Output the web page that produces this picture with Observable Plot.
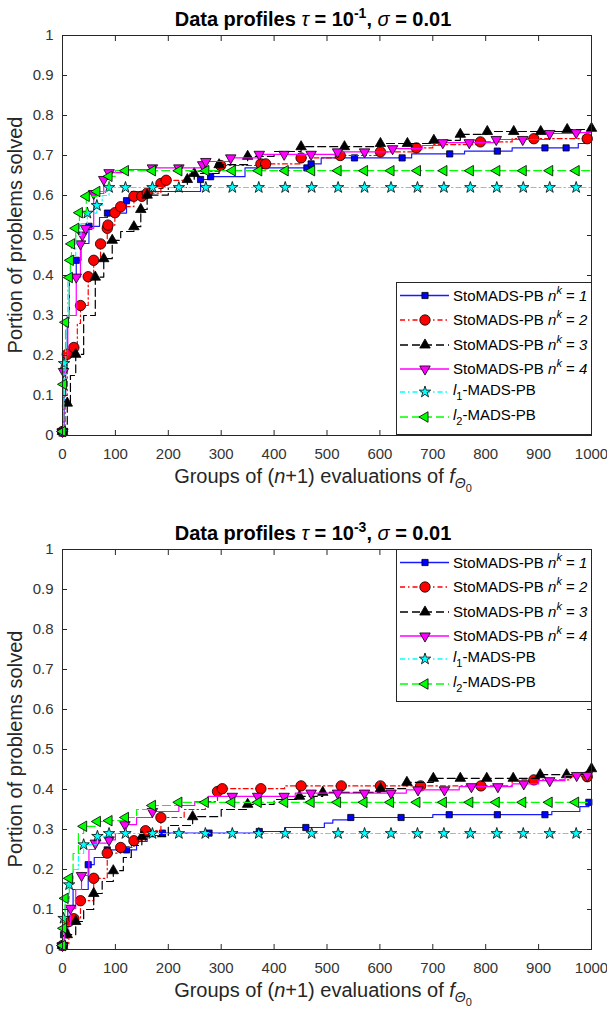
<!DOCTYPE html>
<html><head><meta charset="utf-8">
<script src="https://cdn.jsdelivr.net/npm/d3@7"></script>
<script src="https://cdn.jsdelivr.net/npm/@observablehq/plot@0.6"></script>
<style>
body{margin:0;background:#fff;}
#root{position:relative;width:607px;height:1021px;overflow:hidden;background:#fff;font-family:"Liberation Sans",Arial,sans-serif;}
#root svg.plot{position:absolute;left:0;}
</style>
</head><body><div id="root"></div>
<script>
// ---------- axes ticks ----------
const xTicks = [0,100,200,300,400,500,600,700,800,900,1000];
const xTickLabels = ["0","100","200","300","400","500","600","700","800","900","1000"];
const yTicks = [0,0.1,0.2,0.3,0.4,0.5,0.6,0.7,0.8,0.9,1];
const yTickLabels = ["0","0.1","0.2","0.3","0.4","0.5","0.6","0.7","0.8","0.9","1"];

// ---------- series names ----------
const seriesNames = ["StoMADS-PB nk=1","StoMADS-PB nk=2","StoMADS-PB nk=3","StoMADS-PB nk=4","l1-MADS-PB","l2-MADS-PB"];
const titles = [["10","-1"],["10","-3"]];

// ---------- panel 1 (tau = 1e-1): [x, y, hasMarker] ----------
const top_nk1 = [[0,0.01,1],[3,0.1,0],[6,0.2,0],[9,0.3,0],[13,0.4,0],[26,0.438,1],[35,0.48,0],[50,0.523,1],[70,0.545,0],[85,0.556,1],[121,0.587,1],[130,0.61,0],[261,0.64,1],[280,0.647,1],[345,0.669,0],[462,0.669,1],[470,0.679,1],[489,0.694,0],[552,0.694,1],[642,0.694,1],[660,0.704,0],[732,0.704,1],[760,0.711,0],[822,0.711,1],[850,0.719,0],[912,0.719,1],[952,0.719,1],[975,0.73,0],[990,0.742,1],[1000,0.742,0]];
const top_nk2 = [[0,0.01,1],[5,0.1,0],[9,0.203,1],[21.5,0.22,1],[28,0.28,0],[34,0.325,1],[48.6,0.397,1],[59,0.438,1],[72,0.479,1],[84.6,0.518,1],[86,0.526,1],[99,0.557,1],[110,0.572,1],[135,0.598,1],[150,0.598,1],[160,0.606,1],[186,0.63,1],[196,0.638,1],[240,0.66,0],[299,0.675,1],[375,0.679,1],[384,0.679,1],[451,0.694,1],[525,0.7,1],[601,0.709,1],[669,0.719,1],[700,0.727,0],[790,0.734,1],[850,0.742,0],[891,0.742,1],[992,0.742,1],[1000,0.742,0]];
const top_nk3 = [[0,0.01,1],[9,0.081,1],[15,0.15,0],[25,0.203,1],[40,0.3,0],[62,0.396,1],[78,0.442,1],[94,0.488,1],[110,0.51,0],[135,0.522,1],[148,0.565,1],[160,0.601,1],[200,0.62,0],[236,0.64,1],[249,0.655,1],[296,0.677,1],[350,0.698,1],[400,0.71,0],[451,0.722,1],[533,0.722,1],[601,0.73,1],[652,0.73,1],[702,0.738,1],[752,0.753,1],[803,0.76,1],[853,0.76,1],[904,0.76,1],[954,0.765,1],[1000,0.768,1]];
const top_nk4 = [[0,0.01,1],[2,0.16,1],[5,0.2,0],[10,0.3,0],[26,0.396,1],[34,0.479,1],[37.5,0.501,1],[43.6,0.518,1],[59,0.605,1],[78,0.64,1],[88,0.657,1],[120,0.665,0],[170,0.669,1],[220,0.669,1],[265,0.677,1],[271,0.685,1],[318,0.694,1],[372,0.703,1],[419,0.703,1],[470,0.703,1],[520,0.709,1],[571,0.709,1],[624,0.717,1],[680,0.725,0],[719,0.732,1],[769,0.732,1],[820,0.74,1],[870,0.74,1],[921,0.755,1],[971,0.757,1],[1000,0.757,0]];
const top_l1 = [[0,0.01,1],[2,0.08,0],[3,0.18,1],[6,0.28,0],[10,0.4,0],[15,0.45,0],[25,0.5,0],[35,0.53,0],[47,0.556,1],[65,0.575,1],[75,0.6,0],[88,0.62,1],[119,0.62,1],[170,0.62,1],[220,0.62,1],[271,0.62,1],[321,0.62,1],[371,0.62,1],[421,0.62,1],[471,0.62,1],[521,0.62,1],[571,0.62,1],[621,0.62,1],[671,0.62,1],[721,0.62,1],[771,0.62,1],[821,0.62,1],[871,0.62,1],[921,0.62,1],[971,0.62,1],[1000,0.62,0]];
const top_l2 = [[0,0.01,1],[2,0.128,1],[5.7,0.283,1],[13,0.395,1],[15,0.438,1],[17,0.479,1],[25,0.518,1],[32,0.557,1],[45,0.598,1],[65,0.61,1],[88,0.648,1],[100,0.662,0],[119,0.662,1],[170,0.662,1],[220,0.662,1],[271,0.662,1],[321,0.662,1],[371,0.662,1],[421,0.662,1],[471,0.662,1],[521,0.662,1],[571,0.662,1],[621,0.662,1],[671,0.662,1],[721,0.662,1],[771,0.662,1],[821,0.662,1],[871,0.662,1],[921,0.662,1],[971,0.662,1],[1000,0.662,0]];

// ---------- panel 2 (tau = 1e-3) ----------
const bot_nk1 = [[0,0.01,1],[2,0.037,1],[10,0.1,0],[20,0.15,0],[48.6,0.212,1],[60,0.23,0],[84.6,0.249,1],[121,0.249,1],[140,0.27,0],[160,0.285,0],[189,0.291,1],[277,0.291,1],[372,0.295,1],[420,0.305,0],[460,0.305,1],[495,0.316,0],[511,0.324,0],[545,0.33,1],[640,0.33,1],[700,0.337,0],[731,0.337,1],[822,0.337,1],[912,0.337,1],[925,0.345,0],[978,0.357,0],[995,0.368,1],[1000,0.368,0]];
const bot_nk2 = [[0,0.01,1],[12,0.07,1],[21.5,0.077,1],[34,0.122,1],[59,0.178,1],[84.6,0.241,1],[110,0.255,1],[135,0.272,1],[157,0.297,1],[186,0.33,1],[230,0.35,0],[270,0.37,0],[293,0.395,1],[302,0.402,1],[375,0.402,1],[420,0.409,0],[451,0.409,1],[527,0.409,1],[601,0.409,1],[677,0.409,1],[791,0.409,1],[850,0.424,0],[891,0.424,1],[960,0.432,0],[992,0.432,1],[1000,0.44,0]];
const bot_nk3 = [[0,0.01,1],[9,0.037,1],[25,0.07,1],[40,0.1,0],[59,0.14,1],[75,0.17,0],[96,0.197,1],[115,0.23,0],[130,0.26,0],[150,0.282,1],[200,0.31,0],[246,0.332,1],[300,0.35,0],[350,0.363,1],[400,0.375,0],[448,0.383,1],[492,0.393,1],[601,0.402,1],[651,0.418,1],[701,0.428,1],[752,0.428,1],[802,0.428,1],[852,0.428,1],[903,0.437,1],[953,0.437,1],[1000,0.452,1]];
const bot_nk4 = [[0,0.01,1],[4,0.06,0],[15,0.103,1],[25,0.15,0],[36,0.185,1],[50,0.25,0],[62,0.266,1],[88,0.274,1],[100,0.29,0],[118,0.312,1],[140,0.33,0],[170,0.345,1],[220,0.36,0],[250,0.37,0],[275,0.383,0],[321,0.383,1],[369,0.383,1],[419,0.383,1],[440,0.391,0],[470,0.391,1],[520,0.391,1],[571,0.391,1],[621,0.391,1],[650,0.399,0],[672,0.399,1],[722,0.399,1],[750,0.407,0],[773,0.407,1],[823,0.407,1],[850,0.414,0],[872,0.414,1],[900,0.422,0],[921,0.422,1],[950,0.435,0],[972,0.435,1],[992,0.435,1],[1000,0.44,0]];
const bot_l1 = [[0,0.01,1],[2,0.078,1],[5,0.12,0],[12.5,0.162,1],[20,0.2,0],[30,0.24,0],[40,0.262,1],[66,0.283,1],[88,0.29,1],[119,0.29,1],[170,0.29,1],[220,0.29,1],[270,0.29,1],[321,0.29,1],[371,0.29,1],[421,0.29,1],[471,0.29,1],[521,0.29,1],[571,0.29,1],[621,0.29,1],[671,0.29,1],[721,0.29,1],[771,0.29,1],[821,0.29,1],[871,0.29,1],[921,0.29,1],[971,0.29,1],[1000,0.29,0]];
const bot_l2 = [[0,0.01,1],[2,0.053,1],[5,0.128,1],[13,0.178,1],[20,0.24,0],[30,0.29,0],[40,0.308,1],[66,0.32,1],[88,0.322,1],[119,0.33,1],[140,0.35,0],[170,0.36,1],[220,0.368,1],[270,0.368,1],[320,0.368,1],[370,0.368,1],[420,0.368,1],[470,0.368,1],[520,0.368,1],[570,0.368,1],[620,0.368,1],[670,0.368,1],[720,0.368,1],[770,0.368,1],[820,0.368,1],[870,0.368,1],[920,0.368,1],[970,0.368,1],[1000,0.368,0]];

// ---------- styles ----------
function tri(angleDeg){
  const a0 = angleDeg*Math.PI/180;
  return {draw(ctx, size){
    const s = Math.sqrt(size*4/Math.sqrt(3)), R = s/Math.sqrt(3);
    for(let i=0;i<3;i++){const a=a0+i*2*Math.PI/3; const x=R*Math.cos(a), y=R*Math.sin(a); if(i) ctx.lineTo(x,y); else ctx.moveTo(x,y);}
    ctx.closePath();
  }};
}
const styles = [
  {stroke:"#1a1aff", dash:null, sym:d3.symbolSquare, r:3.5, fill:"#0000ff"},
  {stroke:"#ff0000", dash:"5,3,1.5,3", sym:d3.symbolCircle, r:5.2, fill:"#ff0000"},
  {stroke:"#000000", dash:"8,4", sym:tri(-90), r:3.9, fill:"#000000"},
  {stroke:"#ff00ff", dash:null, sym:tri(90), r:3.9, fill:"#ff00ff"},
  {stroke:"#00ffff", dash:"5,3,1.5,3", sym:d3.symbolStar, r:3.6, fill:"#00ffff"},
  {stroke:"#00ff00", dash:"8,4", sym:tri(180), r:3.9, fill:"#00ff00"}
];

const AX = "#262626";
function panel(seriesList, topPx){
  const marks = [];
  seriesList.forEach((pts, i) => {
    const st = styles[i];
    const rows = pts.map(p => ({x:p[0], y:p[1], m:p[2]}));
    marks.push(Plot.line(rows, {x:"x", y:"y", curve:"step-after", stroke:st.stroke, strokeWidth:1.2, strokeDasharray:st.dash}));
    marks.push(Plot.dot(rows.filter(d => d.m), {x:"x", y:"y", symbol:st.sym, r:st.r, fill:st.fill, stroke:"#000", strokeWidth:0.8}));
  });
  const svg = Plot.plot({
    width:607, height:470, marginTop:35, marginBottom:35, marginLeft:62, marginRight:16,
    x:{domain:[0,1000]}, y:{domain:[0,1]},
    style:{fontFamily:"'Liberation Sans', Arial, sans-serif", fontSize:"15px", color:AX, background:"transparent", overflow:"visible"},
    marks:[
      ...marks,
      Plot.frame({stroke:AX, strokeWidth:1}),
      Plot.axisX(xTicks, {anchor:"bottom", tickSize:-5, tickFormat:() => "", label:null, stroke:AX}),
      Plot.axisX(xTicks, {anchor:"top", tickSize:-5, tickFormat:() => "", label:null, stroke:AX}),
      Plot.axisY(yTicks, {anchor:"left", tickSize:-5, tickFormat:() => "", label:null, stroke:AX}),
      Plot.axisY(yTicks, {anchor:"right", tickSize:-5, tickFormat:() => "", label:null, stroke:AX}),
      Plot.axisX(xTicks, {anchor:"bottom", tickSize:0, tickPadding:13, tickFormat:d => xTickLabels[xTicks.indexOf(d)], label:null, fill:"#333"}),
      Plot.axisY(yTicks, {anchor:"left", tickSize:0, tickPadding:9, tickFormat:d => yTickLabels[yTicks.indexOf(d)], label:null, fill:"#333"})
    ]
  });
  svg.classList.add("plot");
  svg.style.top = topPx + "px";
  return svg;
}

const root = document.getElementById("root");
root.appendChild(panel([top_nk1, top_nk2, top_nk3, top_nk4, top_l1, top_l2], 0));
root.appendChild(panel([bot_nk1, bot_nk2, bot_nk3, bot_nk4, bot_l1, bot_l2], 514));

// ---------- overlay: titles, axis labels, legends ----------
const ov = d3.select(root).append("svg").attr("width",607).attr("height",1021)
  .style("position","absolute").style("left","0px").style("top","0px")
  .style("font-family","'Liberation Sans', Arial, sans-serif");

function rich(sel, parts){
  let cur = 0;
  parts.forEach(p => {
    const rise = p.rise || 0;
    const ts = sel.append("tspan").text(p.t);
    if (rise !== cur) ts.attr("dy", -(rise - cur));
    cur = rise;
    if (p.i) ts.attr("font-style","italic");
    if (p.s) ts.attr("font-size", p.s);
    if (p.w) ts.attr("font-weight", p.w);
  });
}

[0, 514].forEach((off, k) => {
  // title
  const t = ov.append("text").attr("x",313).attr("y",26+off).attr("text-anchor","middle")
    .attr("font-size",20).attr("font-weight","bold").attr("fill","#000");
  rich(t, [{t:"Data profiles "},{t:"τ",i:1,w:"normal"},{t:" = "+titles[k][0]},{t:titles[k][1],s:14,rise:8},{t:", ",rise:0},{t:"σ",i:1,w:"normal"},{t:" = 0.01"}]);
  // x label
  const xl = ov.append("text").attr("x",323).attr("y",483+off).attr("text-anchor","middle").attr("font-size",20).attr("fill",AX);
  rich(xl, [{t:"Groups of ("},{t:"n",i:1},{t:"+1) evaluations of "},{t:"f",i:1},{t:"Θ",i:1,s:14,rise:-5},{t:"0",s:11,rise:-9}]);
  // y label
  ov.append("text").attr("transform",`translate(22,${235+off}) rotate(-90)`).attr("text-anchor","middle")
    .attr("font-size",20).attr("fill",AX).text("Portion of problems solved");
  // legend
  const ly = k === 0 ? 282 : 549;
  const g = ov.append("g");
  g.append("rect").attr("x",396.5).attr("y",ly+0.5).attr("width",195).attr("height",152).attr("fill","#fff").attr("stroke",AX).attr("stroke-width",1);
  const rowsY = [13.5,38,63,87,110,135];
  const labels = [
    [{t:"StoMADS-PB "},{t:"n",i:1},{t:"k",i:1,s:11,rise:7},{t:" = ",rise:0},{t:"1",i:1}],
    [{t:"StoMADS-PB "},{t:"n",i:1},{t:"k",i:1,s:11,rise:7},{t:" = ",rise:0},{t:"2",i:1}],
    [{t:"StoMADS-PB "},{t:"n",i:1},{t:"k",i:1,s:11,rise:7},{t:" = ",rise:0},{t:"3",i:1}],
    [{t:"StoMADS-PB "},{t:"n",i:1},{t:"k",i:1,s:11,rise:7},{t:" = ",rise:0},{t:"4",i:1}],
    [{t:"l",i:1},{t:"1",s:11,rise:-5},{t:"-MADS-PB",rise:0}],
    [{t:"l",i:1},{t:"2",s:11,rise:-5},{t:"-MADS-PB",rise:0}]
  ];
  styles.forEach((st, i) => {
    const cy = ly + rowsY[i];
    const line = g.append("line").attr("x1",400).attr("x2",449).attr("y1",cy).attr("y2",cy)
      .attr("stroke",st.stroke).attr("stroke-width",1.4);
    if (st.dash) line.attr("stroke-dasharray", st.dash);
    g.append("path").attr("transform",`translate(425,${cy})`)
      .attr("d", d3.symbol(st.sym, st.r*st.r*Math.PI)())
      .attr("fill",st.fill).attr("stroke","#000").attr("stroke-width",0.8);
    const tx = g.append("text").attr("x",453).attr("y",cy + (i < 4 ? 5 : 3)).attr("font-size",15).attr("fill","#000");
    rich(tx, labels[i]);
  });
});
</script>
</body></html>
